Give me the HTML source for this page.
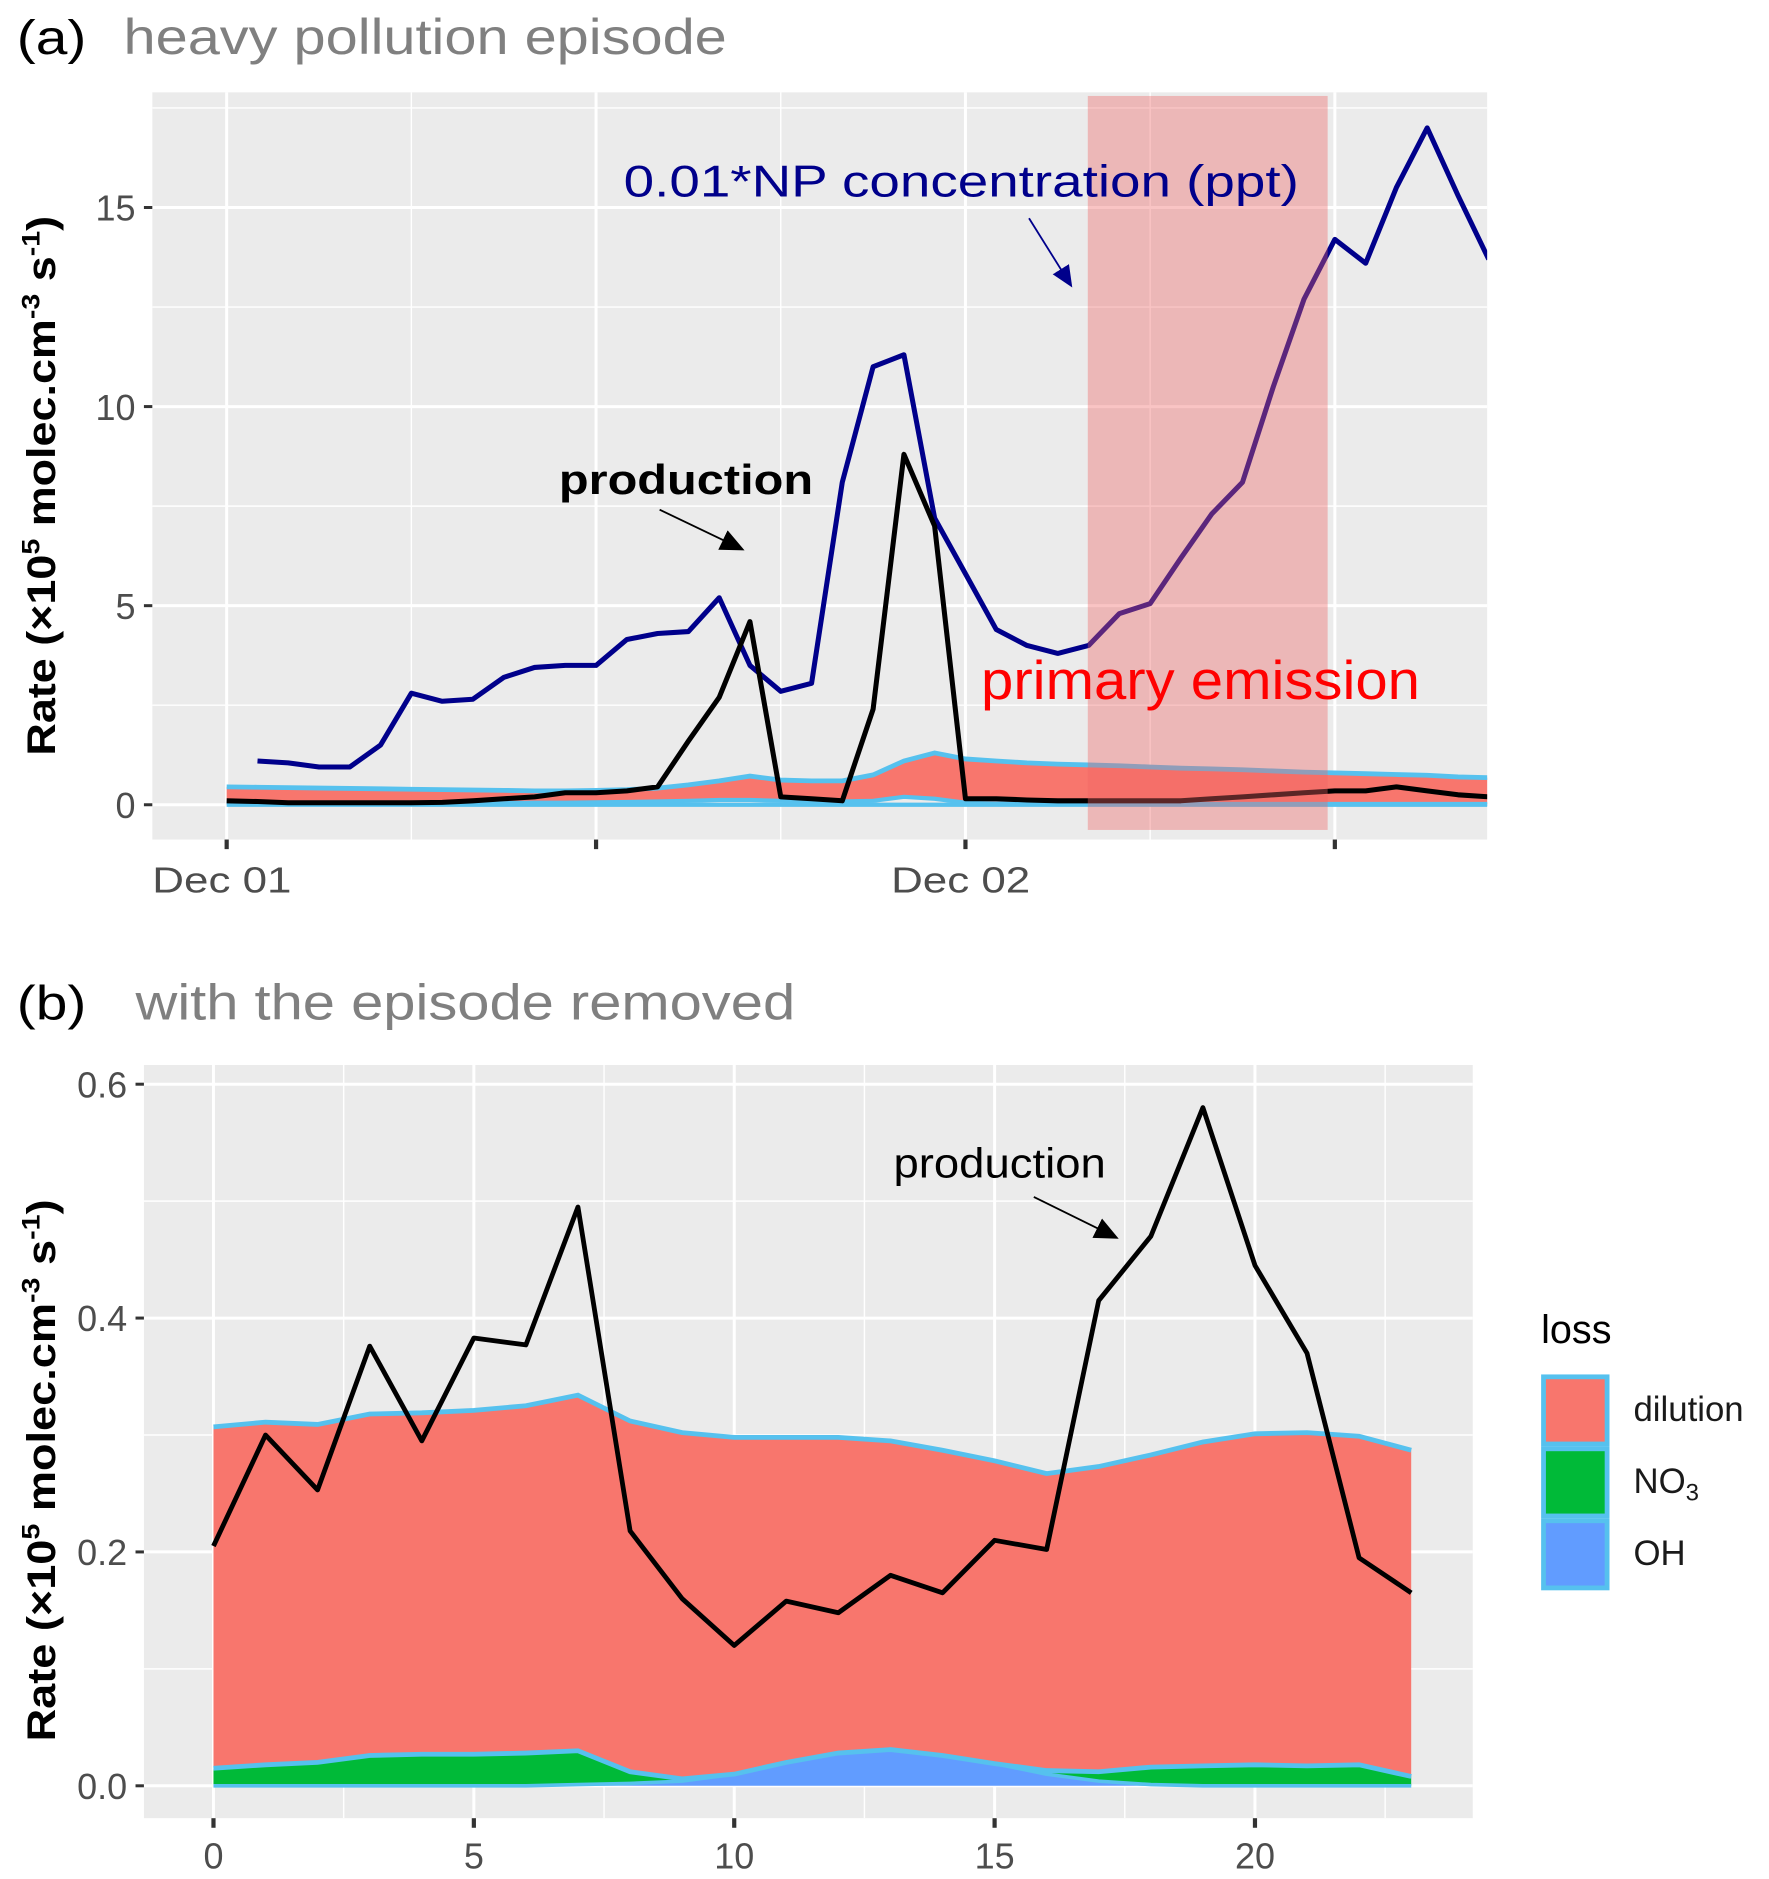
<!DOCTYPE html>
<html><head><meta charset="utf-8"><style>
html,body{margin:0;padding:0;background:#fff}
svg{display:block;font-family:"Liberation Sans",sans-serif}
</style></head><body>
<svg id="fig" width="1769" height="1879" viewBox="0 0 1475 1566.7" xmlns="http://www.w3.org/2000/svg">
<defs>
<marker id="arrK" markerWidth="24" markerHeight="20" refX="18" refY="9" orient="auto" markerUnits="userSpaceOnUse"><path d="M0,0 L20,9 L0,18 z" fill="#000"/></marker>
<marker id="arrB" markerWidth="24" markerHeight="20" refX="16" refY="8" orient="auto" markerUnits="userSpaceOnUse"><path d="M0,0 L18,8 L0,16 z" fill="#00008b"/></marker>
</defs>
<text x="14" y="45" font-size="40" fill="#000" textLength="58" lengthAdjust="spacingAndGlyphs">(a)</text>
<text x="103" y="45" font-size="42" fill="#808080" textLength="503" lengthAdjust="spacingAndGlyphs">heavy pollution episode</text>
<text x="14" y="850" font-size="40" fill="#000" textLength="58" lengthAdjust="spacingAndGlyphs">(b)</text>
<text x="113" y="850" font-size="42" fill="#808080" textLength="550" lengthAdjust="spacingAndGlyphs">with the episode removed</text>
<g id="pa"></g>
<g id="pb"></g>
</svg>
<script>
// ---- panel (a) data (hourly from Dec 01 00:00) ----
const aNPHours=[1,2,3,4,5,6,7,8,9,10,11,12,13,14,15,16,17,18,19,20,21,22,23,24,25,26,27,28,29,30,31,32,33,34,35,36,37,38,39,40,41];
const aNP=[1.1,1.05,0.95,0.95,1.5,2.8,2.6,2.65,3.2,3.45,3.5,3.5,4.15,4.3,4.35,5.2,3.5,2.85,3.05,8.1,11.0,11.3,7.2,5.8,4.4,4.0,3.8,4.0,4.8,5.05,6.2,7.3,8.1,10.5,12.7,14.2,13.6,15.5,17.0,15.3,13.7];
const aProd=[0.1,0.08,0.05,0.05,0.05,0.05,0.05,0.06,0.1,0.15,0.2,0.3,0.3,0.35,0.45,1.6,2.7,4.6,0.2,0.15,0.1,2.4,8.8,7.0,0.15,0.15,0.12,0.1,0.1,0.1,0.1,0.1,0.15,0.2,0.25,0.3,0.35,0.35,0.45,0.35,0.25,0.2];
const aLossTotal=[0.45,0.44,0.43,0.42,0.41,0.4,0.39,0.38,0.37,0.36,0.35,0.35,0.36,0.38,0.42,0.5,0.6,0.72,0.62,0.6,0.6,0.75,1.1,1.3,1.15,1.1,1.05,1.02,1.0,0.98,0.95,0.92,0.9,0.88,0.85,0.82,0.8,0.78,0.76,0.74,0.7,0.68];
const aLossBase=[0.05,0.05,0.04,0.03,0.03,0.02,0.02,0.02,0.03,0.04,0.05,0.05,0.06,0.07,0.08,0.1,0.12,0.12,0.1,0.08,0.08,0.1,0.2,0.15,0.05,0.03,0.02,0.02,0.02,0.02,0.02,0.02,0.02,0.02,0.02,0.02,0.02,0.02,0.02,0.02,0.02,0.02];
const aYTicks=[0,5,10,15];
const aXTickLabels=["Dec 01","","Dec 02",""];
const aXTickHours=[0,12,24,36];
// ---- panel (b) data ----
const bHours=[0,1,2,3,4,5,6,7,8,9,10,11,12,13,14,15,16,17,18,19,20,21,22,23];
const bProd=[0.205,0.30,0.253,0.376,0.295,0.383,0.377,0.495,0.218,0.16,0.12,0.158,0.148,0.18,0.165,0.21,0.202,0.415,0.47,0.58,0.445,0.37,0.195,0.165];
const bTotal=[0.307,0.311,0.309,0.318,0.319,0.321,0.325,0.334,0.312,0.302,0.298,0.298,0.298,0.295,0.287,0.278,0.267,0.273,0.283,0.294,0.301,0.302,0.299,0.287];
const bNO3Top=[0.015,0.018,0.02,0.026,0.027,0.027,0.028,0.03,0.012,0.006,0.01,0.02,0.028,0.031,0.026,0.019,0.013,0.012,0.016,0.017,0.018,0.017,0.018,0.008];
const bOH=[0,0,0,0,0,0,0,0.001,0.002,0.004,0.01,0.02,0.028,0.031,0.026,0.019,0.01,0.004,0.001,0,0,0,0,0];
const bYTicks=[0,0.2,0.4,0.6];
const bXTicks=[0,5,10,15,20];

const NS="http://www.w3.org/2000/svg";
function mk(parent,tag,attrs,name){const e=document.createElementNS(NS,tag);for(const k in attrs)e.setAttribute(k,attrs[k]);


parent.appendChild(e);return e;}
function pts(xs,ys,X,Y){return xs.map((h,i)=>X(h).toFixed(1)+","+Y(ys[i]).toFixed(1)).join(" ");}
function band(xs,top,bot,X,Y){const a=xs.map((h,i)=>X(h)+","+Y(top[i]));const b=xs.map((h,i)=>X(h)+","+Y(bot[i])).reverse();return a.concat(b).join(" ");}
const YT='Rate (×10<tspan font-size="21" dy="-13">5</tspan><tspan dy="13"> molec.cm</tspan><tspan font-size="21" dy="-13">-3</tspan><tspan dy="13"> s</tspan><tspan font-size="21" dy="-13">-1</tspan><tspan dy="13">)</tspan>';

// ---- panel A ----
(function(){
const g=document.getElementById('pa');
const L=127,R=1240,T=77,B=700;
const X=h=>189+h*(616/24), Y=v=>671-v*33.2;
mk(g,'rect',{x:L,y:T,width:R-L,height:B-T,fill:'#ebebeb'},'plot-background');
const cp=mk(g,'clipPath',{id:'cpa'},'clip-a');mk(cp,'rect',{x:L,y:T,width:R-L,height:B-T},'clip-rect');
[2.5,7.5,12.5,17.5].forEach(v=>mk(g,'line',{x1:L,x2:R,y1:Y(v),y2:Y(v),stroke:'#fff','stroke-width':1.2},'minor-gridline-y'));
[6,18,30].forEach(h=>mk(g,'line',{x1:X(h),x2:X(h),y1:T,y2:B,stroke:'#fff','stroke-width':1.2},'minor-gridline-x'));
aYTicks.forEach(v=>mk(g,'line',{x1:L,x2:R,y1:Y(v),y2:Y(v),stroke:'#fff','stroke-width':2.5},'gridline-y'));
aXTickHours.forEach(h=>mk(g,'line',{x1:X(h),x2:X(h),y1:T,y2:B,stroke:'#fff','stroke-width':2.5},'gridline-x'));
const d=mk(g,'g',{'clip-path':'url(#cpa)'},'data-layer');
const hx=aProd.map((_,i)=>i);
const zeros=hx.map(()=>0);
mk(d,'polygon',{points:band(hx,aLossTotal,aLossBase,X,Y),fill:'#f8766d'},'dilution-area');
mk(d,'polyline',{points:pts(hx,aLossTotal,X,Y),fill:'none',stroke:'#56c1ee','stroke-width':4},'dilution-outline');
mk(d,'polyline',{points:pts(hx,aLossBase,X,Y),fill:'none',stroke:'#56c1ee','stroke-width':3.5},'no3-oh-outline');
mk(d,'polyline',{points:pts(hx,zeros,X,Y),fill:'none',stroke:'#56c1ee','stroke-width':3.5},'oh-outline');
mk(d,'polyline',{points:pts(aNPHours,aNP,X,Y),fill:'none',stroke:'#00008b','stroke-width':4.2,'stroke-linejoin':'round'},'np-concentration-line');
mk(d,'polyline',{points:pts(hx,aProd,X,Y),fill:'none',stroke:'#000','stroke-width':4.2,'stroke-linejoin':'round'},'production-line');
mk(d,'rect',{x:907,y:80,width:200,height:612,fill:'rgba(238,100,100,0.38)'},'primary-emission-shade');
aYTicks.forEach(v=>{mk(g,'line',{x1:L-7,x2:L,y1:Y(v),y2:Y(v),stroke:'#333','stroke-width':2.5},'y-tick');
 const t=mk(g,'text',{x:L-14,y:Y(v)+11,'text-anchor':'end','font-size':30,fill:'#4d4d4d'},'y-tick-label');t.textContent=v;});
aXTickHours.forEach((h,i)=>{mk(g,'line',{x1:X(h),x2:X(h),y1:B,y2:B+8,stroke:'#333','stroke-width':3.5},'x-tick');
 if(aXTickLabels[i]){const t=mk(g,'text',{x:X(h)-62,y:744,'font-size':30,fill:'#4d4d4d',textLength:116,lengthAdjust:'spacingAndGlyphs'},'x-tick-label');t.textContent=aXTickLabels[i];}});
let t=mk(g,'text',{x:520,y:164,'font-size':37,fill:'#00008b',textLength:563,lengthAdjust:'spacingAndGlyphs'},'np-annotation');t.textContent='0.01*NP concentration (ppt)';
mk(g,'line',{x1:858,y1:182,x2:893,y2:238,stroke:'#00008b','stroke-width':1.5,'marker-end':'url(#arrB)'},'np-arrow');
t=mk(g,'text',{x:466,y:412,'font-size':35,'font-weight':'bold',fill:'#000',textLength:212,lengthAdjust:'spacingAndGlyphs'},'production-annotation');t.textContent='production';
mk(g,'line',{x1:550,y1:425,x2:619,y2:458,stroke:'#000','stroke-width':1.5,'marker-end':'url(#arrK)'},'production-arrow');
t=mk(g,'text',{x:818,y:583,'font-size':46,fill:'#ff0000',textLength:366,lengthAdjust:'spacingAndGlyphs'},'primary-emission-label');t.textContent='primary emission';
t=mk(g,'text',{transform:'translate(46,630) rotate(-90)','font-size':33,'font-weight':'bold',fill:'#000',textLength:450,lengthAdjust:'spacingAndGlyphs'},'y-axis-title-a');
t.innerHTML=YT;
})();

// ---- panel B ----
(function(){
const g=document.getElementById('pb');
const L=120,R=1228,T=888,B=1516;
const X=h=>178+h*43.42, Y=v=>1489-v*975;
mk(g,'rect',{x:L,y:T,width:R-L,height:B-T,fill:'#ebebeb'},'plot-background');
[0.1,0.3,0.5].forEach(v=>mk(g,'line',{x1:L,x2:R,y1:Y(v),y2:Y(v),stroke:'#fff','stroke-width':1.2},'minor-gridline-y'));
[2.5,7.5,12.5,17.5,22.5].forEach(h=>mk(g,'line',{x1:X(h),x2:X(h),y1:T,y2:B,stroke:'#fff','stroke-width':1.2},'minor-gridline-x'));
bYTicks.forEach(v=>mk(g,'line',{x1:L,x2:R,y1:Y(v),y2:Y(v),stroke:'#fff','stroke-width':2.5},'gridline-y'));
bXTicks.forEach(h=>mk(g,'line',{x1:X(h),x2:X(h),y1:T,y2:B,stroke:'#fff','stroke-width':2.5},'gridline-x'));
const zeros=bHours.map(()=>0);
mk(g,'polygon',{points:band(bHours,bTotal,bNO3Top,X,Y),fill:'#f8766d'},'dilution-area');
mk(g,'polygon',{points:band(bHours,bNO3Top,bOH,X,Y),fill:'#00ba38'},'no3-area');
mk(g,'polygon',{points:band(bHours,bOH,zeros,X,Y),fill:'#619cff'},'oh-area');
mk(g,'polyline',{points:pts(bHours,bTotal,X,Y),fill:'none',stroke:'#56c1ee','stroke-width':4},'dilution-outline');
mk(g,'polyline',{points:pts(bHours,bNO3Top,X,Y),fill:'none',stroke:'#56c1ee','stroke-width':4},'no3-outline');
mk(g,'polyline',{points:pts(bHours,bOH,X,Y),fill:'none',stroke:'#56c1ee','stroke-width':3},'oh-outline');
mk(g,'polyline',{points:pts(bHours,bProd,X,Y),fill:'none',stroke:'#000','stroke-width':4,'stroke-linejoin':'round'},'production-line');
bYTicks.forEach(v=>{mk(g,'line',{x1:L-7,x2:L,y1:Y(v),y2:Y(v),stroke:'#333','stroke-width':2.5},'y-tick');
 const t=mk(g,'text',{x:L-14,y:Y(v)+11,'text-anchor':'end','font-size':30,fill:'#4d4d4d'},'y-tick-label');t.textContent=v.toFixed(1);});
bXTicks.forEach(h=>{mk(g,'line',{x1:X(h),x2:X(h),y1:B,y2:B+8,stroke:'#333','stroke-width':3.5},'x-tick');
 const t=mk(g,'text',{x:X(h),y:1558,'text-anchor':'middle','font-size':30,fill:'#4d4d4d'},'x-tick-label');t.textContent=h;});
let t=mk(g,'text',{x:745,y:982,'font-size':35,fill:'#000',textLength:177,lengthAdjust:'spacingAndGlyphs'},'production-annotation');t.textContent='production';
mk(g,'line',{x1:862,y1:998,x2:931,y2:1032,stroke:'#000','stroke-width':1.5,'marker-end':'url(#arrK)'},'production-arrow');
t=mk(g,'text',{transform:'translate(46,1452) rotate(-90)','font-size':33,'font-weight':'bold',fill:'#000',textLength:452,lengthAdjust:'spacingAndGlyphs'},'y-axis-title-b');
t.innerHTML=YT;
t=mk(g,'text',{x:1285,y:1120,'font-size':33,fill:'#000'},'legend-title');t.textContent='loss';
const keys=[['#f8766d','dilution',1148],['#00ba38','NO3',1208],['#619cff','OH',1268]];
keys.forEach(k=>{mk(g,'rect',{x:1287,y:k[2],width:53,height:56,fill:k[0],stroke:'#56c1ee','stroke-width':4},'legend-key');
 const tt=mk(g,'text',{x:1362,y:k[2]+37,'font-size':29,fill:'#1a1a1a'},'legend-entry');
 if(k[1]==='NO3'){tt.innerHTML='NO<tspan font-size="20" dy="6">3</tspan>';}else tt.textContent=k[1];});
})();
</script>
</body></html>
